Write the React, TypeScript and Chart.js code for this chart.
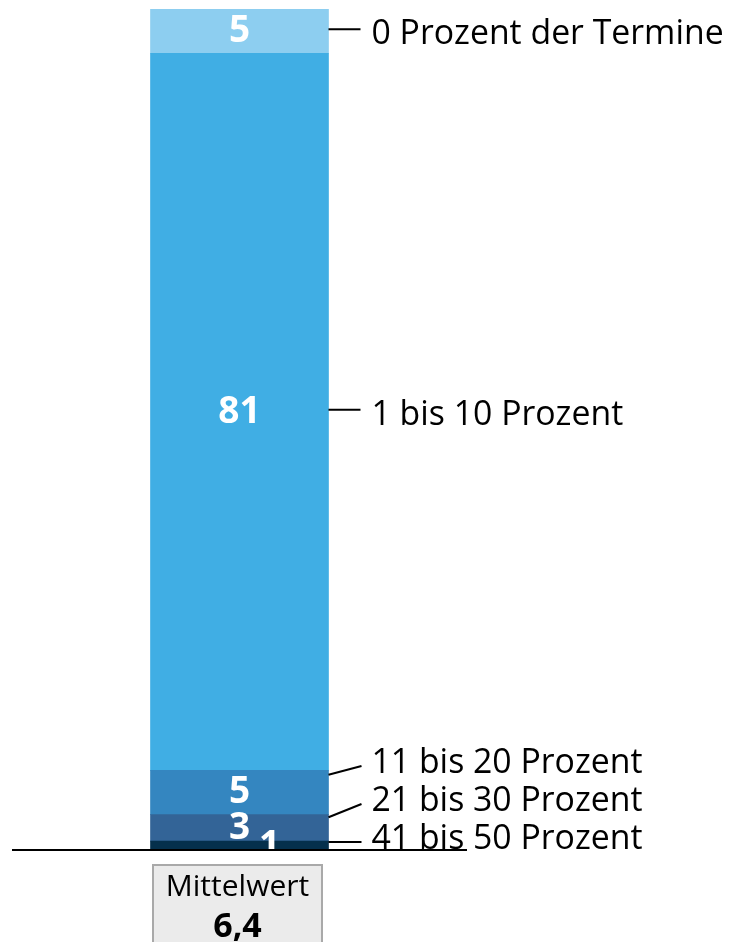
import React, { useEffect, useRef } from "react";
import { Chart, registerables } from "chart.js";

Chart.register(...registerables);

// Data (bottom to top of the stacked bar)
const categories: string[] = ["Termine"];
const segmentLabels: string[] = [
  "41 bis 50 Prozent",
  "21 bis 30 Prozent",
  "11 bis 20 Prozent",
  "1 bis 10 Prozent",
  "0 Prozent der Termine",
];
const segmentValues: number[] = [1, 3, 5, 81, 5];
const segmentColors: string[] = ["#05304c", "#336497", "#3486c0", "#40aee4", "#8dcef0"];
const meanLabel = "Mittelwert";
const meanValue = 6.4;

const FONT = "'Open Sans', 'Noto Sans', sans-serif";

const overlayPlugin = {
  id: "overlay",
  afterDatasetsDraw(chart: any) {
    const { ctx, chartArea } = chart;
    const n = chart.data.datasets.length;
    const segs: any[] = [];
    for (let i = 0; i < n; i++) {
      const el = chart.getDatasetMeta(i).data[0] as any;
      const top = Math.min(el.y, el.base);
      const bot = Math.max(el.y, el.base);
      segs.push({ x: el.x, w: el.width, top, bot, center: (top + bot) / 2, value: segmentValues[i], label: segmentLabels[i] });
    }

    // value labels inside the bar (clipped to chart area)
    ctx.save();
    ctx.beginPath();
    ctx.rect(chartArea.left, chartArea.top, chartArea.right - chartArea.left, chartArea.bottom - chartArea.top);
    ctx.clip();
    ctx.fillStyle = "#ffffff";
    ctx.font = `bold 37px ${FONT}`;
    ctx.textAlign = "center";
    ctx.textBaseline = "alphabetic";
    segs.forEach((s) => {
      const h = s.bot - s.top;
      const dx = h < 15 ? 30 : 0;
      ctx.fillText(String(s.value).replace(".", ","), s.x + dx, s.center + 11);
    });
    ctx.restore();

    // side labels with leader lines (resolve overlaps from the bottom)
    const ys: number[] = [];
    let prev = Infinity;
    segs.forEach((s) => {
      const y = Math.min(s.center, chartArea.bottom - 14, prev - 38);
      ys.push(y);
      prev = y;
    });
    ctx.save();
    ctx.strokeStyle = "#000";
    ctx.lineWidth = 2;
    ctx.fillStyle = "#000";
    ctx.font = `33.8px ${FONT}`;
    ctx.textAlign = "left";
    ctx.textBaseline = "alphabetic";
    segs.forEach((s, i) => {
      const right = s.x + s.w / 2;
      const y = ys[i];
      ctx.beginPath();
      if (Math.abs(y - s.center) < 1) {
        ctx.moveTo(right, s.center - 2);
        ctx.lineTo(right + 32, s.center - 2);
      } else {
        ctx.moveTo(right, s.top + 0.1 * (s.bot - s.top));
        ctx.lineTo(right + 33, y + 6);
      }
      ctx.stroke();
      ctx.fillText(s.label, right + 43, y + 13);
    });
    ctx.restore();

    // baseline
    ctx.save();
    ctx.strokeStyle = "#000";
    ctx.lineWidth = 2;
    ctx.beginPath();
    ctx.moveTo(chartArea.left, chartArea.bottom);
    ctx.lineTo(chartArea.right, chartArea.bottom);
    ctx.stroke();
    ctx.restore();

    // mean box
    const cx = segs[0].x - 2;
    const boxW = 169;
    const boxTop = chartArea.bottom + 15;
    ctx.save();
    ctx.fillStyle = "#ebebeb";
    ctx.strokeStyle = "#a9a9a9";
    ctx.lineWidth = 2;
    ctx.fillRect(cx - boxW / 2, boxTop, boxW, 120);
    ctx.strokeRect(cx - boxW / 2, boxTop, boxW, 120);
    ctx.fillStyle = "#000";
    ctx.textAlign = "center";
    ctx.textBaseline = "alphabetic";
    ctx.font = `30px ${FONT}`;
    ctx.fillText(meanLabel, cx, boxTop + 31);
    ctx.font = `bold 34px ${FONT}`;
    ctx.fillText(meanValue.toFixed(1).replace(".", ","), cx, boxTop + 72);
    ctx.restore();
  },
};

export default function App() {
  const ref = useRef<HTMLCanvasElement | null>(null);
  useEffect(() => {
    if (!ref.current) return;
    const total = segmentValues.reduce((a, b) => a + b, 0);
    const chart = new Chart(ref.current, {
      type: "bar",
      data: {
        labels: categories,
        datasets: segmentValues.map((v, i) => ({
          label: segmentLabels[i],
          data: [v],
          backgroundColor: segmentColors[i],
          borderWidth: 0,
          barThickness: 178,
        })),
      },
      options: {
        animation: false,
        responsive: false,
        maintainAspectRatio: false,
        devicePixelRatio: 1,
        layout: { padding: { left: 12, right: 262, top: 9, bottom: 92 } },
        plugins: { legend: { display: false }, tooltip: { enabled: false } },
        scales: {
          x: { stacked: true, display: false },
          y: { stacked: true, display: false, min: 0, max: total },
        },
      },
      plugins: [overlayPlugin],
    });
    return () => chart.destroy();
  }, []);
  return (
    <div style={{ position: "fixed", left: 0, top: 0, width: 729, height: 942, background: "#fff" }}>
      <canvas ref={ref} width={729} height={942} style={{ width: 729, height: 942, display: "block" }} />
    </div>
  );
}
